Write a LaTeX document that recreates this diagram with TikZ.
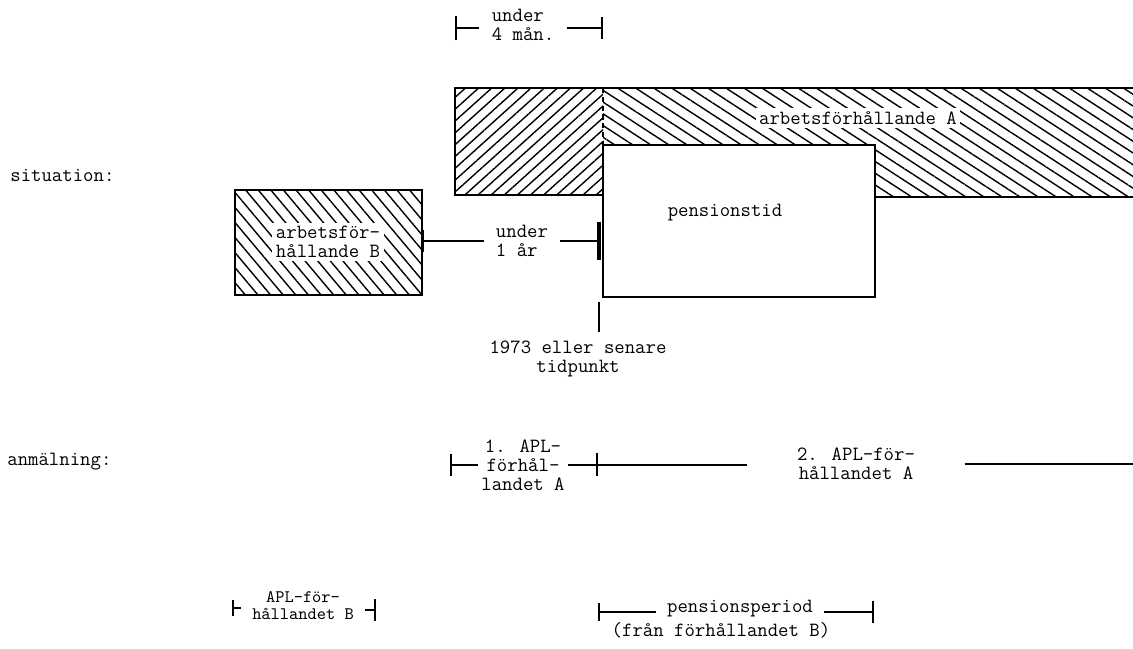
\documentclass[tikz,border=0pt]{standalone}
\usetikzlibrary{patterns.meta,arrows.meta}

\tikzset{
  txt/.style={font=\ttfamily\fontsize{11.5}{10.9}\selectfont, inner sep=0pt, align=center},
  smalltxt/.style={txt, font=\ttfamily\fontsize{10}{9.6}\selectfont},
  outline/.style={line width=1.2pt},
  dim/.style={line width=0.9pt},
  tick/.style={line width=1.6pt},
  hatchL/.style={pattern={Lines[angle=42,distance=5pt,line width=0.8pt]}},
  hatchR/.style={pattern={Lines[angle=-33,distance=5.6pt,line width=0.8pt]}},
  hatchB/.style={pattern={Lines[angle=-50,distance=5.5pt,line width=0.8pt]}},
  barL/.style={{Bar[width=#1,line width=1.4pt]}-},
  barR/.style={-{Bar[width=#1,line width=1.4pt]}},
}

\begin{document}
\begin{tikzpicture}[x=0.02cm, y=-0.02cm]
\useasboundingbox (0,0) rectangle (1133,649);

% row labels
\node[txt, anchor=west] (sit) at (10,175) {situation:};
\node[txt, anchor=west] (anm) at (7,462) {anmälning:};

% arbetsförhållande A
\fill[hatchL] (455,88) rectangle (603,195);
\fill[hatchR] (603,88) -- (1133,88) -- (1133,197) -- (875,197) -- (875,145) -- (603,145) -- cycle;
\draw[outline] (1133,88) -- (455,88) -- (455,195) -- (603,195);
\draw[outline] (875,197) -- (1133,197);
\draw[outline, densely dashed] (603,88) -- (603,145);
\node[txt, fill=white, inner sep=2pt] (arbA) at (858,118) {arbetsförhållande A};

% pensionstid
\draw[outline, fill=white] (603,145) rectangle (875,297);
\node[txt] (pens) at (725,213) {pensionstid};

% arbetsförhållande B
\draw[outline, hatchB] (235,190) rectangle (422,295);
\node[txt, fill=white, inner sep=2pt] (arbB) at (328,242) {arbetsför-\\hållande B};

% under 4 mån.
\node[txt, align=left, inner xsep=6.8pt] (u4) at (523,25) {under\\4 mån.};
\coordinate (u4a) at (455,28);
\coordinate (u4b) at (603,28);
\draw[dim, barL=14pt] (u4a) -- (u4a -| u4.west);
\draw[dim, barR=12pt] (u4b -| u4.east) -- (u4b);

% under 1 år
\node[txt, align=left, inner xsep=6.8pt] (u1) at (522,241) {under\\1 år};
\coordinate (boxB) at (422,241);
\coordinate (u1b) at (601,241);
\draw[dim, barL=12pt] (boxB) -- (boxB -| u1.west);
\draw[dim, -{Bar[width=22pt,line width=2.2pt]}] (u1b -| u1.east) -- (u1b);

% 1973
\coordinate (t73) at (599,302);
\draw[tick] (t73) -- ++(0,30);
\node[txt] (y73) at (578,359) {1973 eller senare\\tidpunkt};

% anmälning, A
\node[txt, inner xsep=2pt] (apl1) at (523,465) {1. APL-\\förhål-\\landet A};
\node[txt, inner xsep=28pt] (apl2) at (856,464) {2. APL-för-\\hållandet A};
\coordinate (r2a) at (450,465);
\coordinate (r2t) at (597,465);
\coordinate (r2e) at (1133,465);
\draw[dim, barL=12pt] (r2a) -- (r2a -| apl1.west);
\draw[dim] (apl1.east) -- (apl1.east -| apl2.west);
\draw[tick] ([yshift=-6pt]r2t) -- ([yshift=7pt]r2t);
\draw[dim] (apl2.east) -- (apl2.east -| r2e);

% anmälning, B
\node[smalltxt, inner xsep=6pt] (aplB) at (303,606) {APL-för-\\hållandet B};
\coordinate (r3a) at (232,608);
\coordinate (r3b) at (376,610);
\draw[dim, barL=9pt] (r3a) -- (r3a -| aplB.west);
\draw[dim, barR=12pt] (r3b -| aplB.east) -- (r3b);

\node[txt, inner xsep=6pt] (pp) at (740,609) {pensionsperiod};
\node[txt] (ppB) at (721,630) {(från förhållandet B)};
\coordinate (r3c) at (598,612);
\coordinate (r3d) at (874,612);
\draw[dim, barL=10pt] (r3c) -- (r3c -| pp.west);
\draw[dim, barR=12pt] (r3d -| pp.east) -- (r3d);
\end{tikzpicture}
\end{document}
